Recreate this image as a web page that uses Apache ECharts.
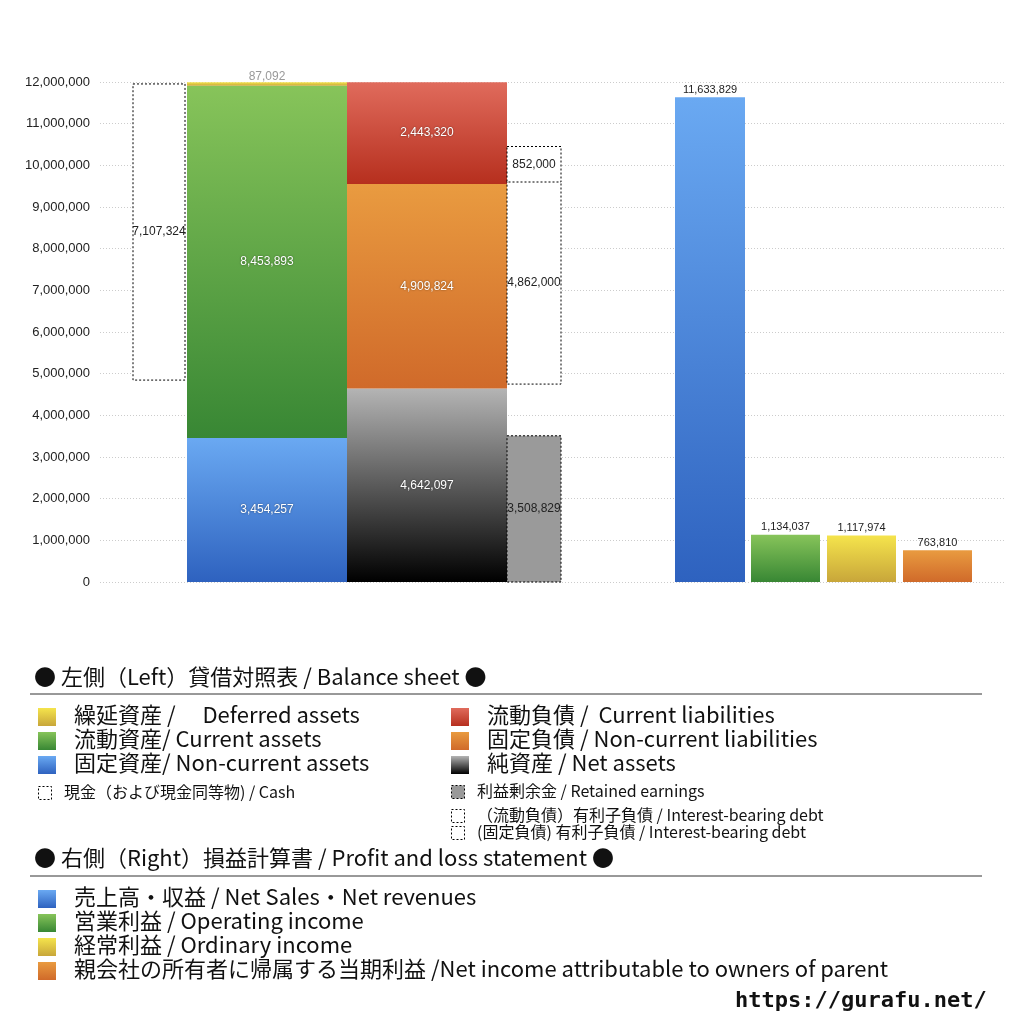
<!DOCTYPE html>
<html><head><meta charset="utf-8">
<script src="https://cdn.jsdelivr.net/npm/echarts@6/dist/echarts.min.js"></script>
<style>body{margin:0;background:#fff}#c{width:1024px;height:1024px}</style>
</head><body><div id="c"></div>
<script>
// balance sheet (left) values
const assets = [3454257, 8453893, 87092];          // non-current, current, deferred
const liabilities = [4642097, 4909824, 2443320];   // net assets, non-current, current
const cash = 7107324, cashBase = 4846000;
const retained = 3508829;
const debtNonCurrent = 4862000, debtNonCurrentBase = 4750000;
const debtCurrent = 852000, debtCurrentBase = 9600000;
// profit & loss (right)
const pl = [11633829, 1134037, 1117974, 763810];
const yTicks = [0, 1000000, 2000000, 3000000, 4000000, 5000000, 6000000, 7000000, 8000000, 9000000, 10000000, 11000000, 12000000];

const grad = (a, b) => new echarts.graphic.LinearGradient(0, 0, 0, 1, [{offset: 0, color: a}, {offset: 1, color: b}]);
const BLUE = grad('#6aa9f2', '#2e62bf'), GREEN = grad('#87c45a', '#388734'),
  YELLOW = grad('#f5e44c', '#c8a63a'), RED = grad('#e06b5c', '#b62f1e'),
  ORANGE = grad('#e99b40', '#d06a2a'), BLACK = grad('#b4b4b4', '#000000');

// column spans along the hidden x scale (0..905)
const cols = {cash: [33, 85], asset: [87, 247], liab: [247, 407], debt: [407, 461],
  p0: [575, 645], p1: [651, 720], p2: [727, 796], p3: [803, 872]};

const marks = [];
const fmt = v => v.toLocaleString('en-US');
let b = 0;
[BLUE, GREEN, YELLOW].forEach((f, i) => {
  marks.push({col: 'asset', base: b, val: assets[i], fill: f, label: i < 2 ? 'in' : 'top'});
  b += assets[i];
});
b = 0;
[BLACK, ORANGE, RED].forEach((f, i) => {
  marks.push({col: 'liab', base: b, val: liabilities[i], fill: f, label: 'in'});
  b += liabilities[i];
});
marks.push({col: 'cash', base: cashBase, val: cash, fill: '#fff', dash: true, label: 'inDark'});
marks.push({col: 'debt', base: 0, val: retained, fill: '#9a9a9a', dash: true, label: 'inDark'});
marks.push({col: 'debt', base: debtNonCurrentBase, val: debtNonCurrent, fill: '#fff', dash: true, label: 'inDark'});
marks.push({col: 'debt', base: debtCurrentBase, val: debtCurrent, fill: '#fff', dash: true, label: 'inDark'});
[BLUE, GREEN, YELLOW, ORANGE].forEach((f, i) => marks.push({col: 'p' + i, base: 0, val: pl[i], fill: f, label: 'above'}));

const chart = echarts.init(document.getElementById('c'));
const jp = '"Noto Sans CJK JP", sans-serif';

function renderItem(params, api) {
  const m = marks[params.dataIndex];
  const span = cols[m.col];
  const p0 = api.coord([span[0], m.base + m.val]);
  const p1 = api.coord([span[1], m.base]);
  const shape = {x: p0[0], y: p0[1], width: p1[0] - p0[0], height: p1[1] - p0[1]};
  const style = {fill: m.fill, stroke: m.dash ? '#000' : null, lineWidth: m.dash ? 1 : 0, lineDash: m.dash ? [2, 2] : null};
  let tc = {style: {text: fmt(m.val), fontSize: 12, fontFamily: 'sans-serif', fill: '#fff',
    textShadowColor: 'rgba(0,0,0,0.5)', textShadowBlur: 2}};
  let cfg = {position: 'inside'};
  if (m.label === 'inDark') tc.style = {text: fmt(m.val), fontSize: 12, fill: '#222', fontFamily: 'sans-serif'};
  if (m.label === 'top') { tc.style = {text: fmt(m.val), fontSize: 12, fill: '#999', fontFamily: 'sans-serif'}; cfg = {position: 'top', distance: 0}; }
  if (m.label === 'above') { tc.style = {text: fmt(m.val), fontSize: 11, fill: '#222', fontFamily: 'sans-serif'}; cfg = {position: 'top', distance: 2}; }
  return {type: 'rect', shape, style, textContent: tc, textConfig: cfg, z2: m.dash ? 5 : 1};
}

// legend rows
const legendItems = [
  {y: 717, x: 40, f: YELLOW, t: '繰延資産 /　 Deferred assets'},
  {y: 741, x: 40, f: GREEN, t: '流動資産/ Current assets'},
  {y: 765, x: 40, f: BLUE, t: '固定資産/ Non-current assets'},
  {y: 717, x: 453, f: RED, t: '流動負債 /  Current liabilities'},
  {y: 741, x: 453, f: ORANGE, t: '固定負債 / Non-current liabilities'},
  {y: 765, x: 453, f: BLACK, t: '純資産 / Net assets'},
  {y: 899, x: 40, f: BLUE, t: '売上高・収益 / Net Sales・Net revenues'},
  {y: 923, x: 40, f: GREEN, t: '営業利益 / Operating income'},
  {y: 947, x: 40, f: YELLOW, t: '経常利益 / Ordinary income'},
  {y: 971, x: 40, f: ORANGE, t: '親会社の所有者に帰属する当期利益 /Net income attributable to owners of parent'}
];
const smallItems = [
  {y: 793, x: 40, f: '#fff', t: '現金（および現金同等物) / Cash'},
  {y: 792, x: 453, f: '#999', t: '利益剰余金 / Retained earnings'},
  {y: 816, x: 453, f: '#fff', t: '（流動負債）有利子負債 / Interest-bearing debt'},
  {y: 833, x: 453, f: '#fff', t: '(固定負債) 有利子負債 / Interest-bearing debt'}
];
const graphic = [];
legendItems.forEach(it => {
  graphic.push({type: 'rect', left: it.x - 2, top: it.y - 9, shape: {width: 18, height: 18}, style: {fill: it.f}});
  graphic.push({type: 'text', left: it.x + 34, top: it.y - 13, style: {text: it.t, fontSize: 22, fontFamily: jp, fill: '#111'}});
});
smallItems.forEach(it => {
  graphic.push({type: 'rect', left: it.x - 2, top: it.y - 7, shape: {width: 13, height: 13}, style: {fill: it.f, stroke: '#000', lineDash: [2, 2]}});
  graphic.push({type: 'text', left: it.x + 24, top: it.y - 9, style: {text: it.t, fontSize: 16, fontFamily: jp, fill: '#111'}});
});
graphic.push({type: 'text', left: 34, top: 666, style: {text: '● 左側（Left）貸借対照表 / Balance sheet ●', fontSize: 22, fontFamily: jp, fill: '#111'}});
graphic.push({type: 'line', shape: {x1: 30, y1: 694, x2: 982, y2: 694}, style: {stroke: '#333', lineWidth: 1}});
graphic.push({type: 'text', left: 34, top: 847, style: {text: '● 右側（Right）損益計算書 / Profit and loss statement ●', fontSize: 22, fontFamily: jp, fill: '#111'}});
graphic.push({type: 'line', shape: {x1: 30, y1: 876, x2: 982, y2: 876}, style: {stroke: '#333', lineWidth: 1}});
graphic.push({type: 'text', left: 735, top: 990, style: {text: 'https://gurafu.net/', fontSize: 22, fontWeight: 'bold', fontFamily: 'DejaVu Sans Mono, monospace', fill: '#111'}});

chart.setOption({
  animation: false,
  grid: {left: 100, right: 19, top: 82, bottom: 442},
  xAxis: {type: 'value', min: 0, max: 905, show: false},
  yAxis: {type: 'value', min: yTicks[0], max: yTicks[yTicks.length - 1], interval: 1000000,
    axisLine: {show: false}, axisTick: {show: false},
    axisLabel: {color: '#222', fontSize: 13, formatter: v => v.toLocaleString('en-US'), margin: 10},
    splitLine: {lineStyle: {color: '#ccc', type: [1, 2]}}},
  series: [{type: 'custom', renderItem, data: marks.map((m, i) => [i, m.base + m.val]), clip: false}],
  graphic
});
</script></body></html>
